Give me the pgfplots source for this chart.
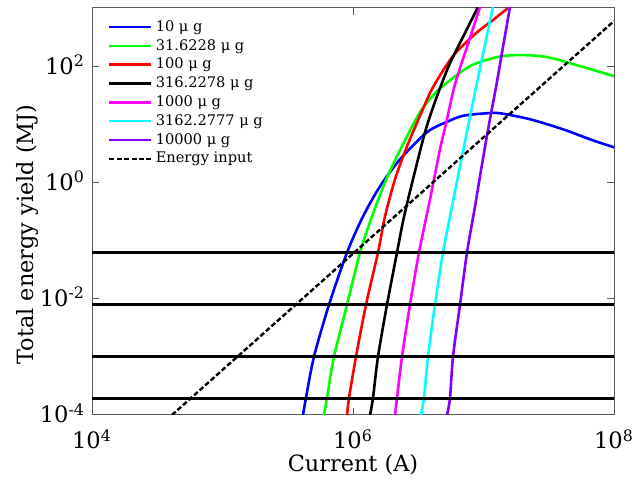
\documentclass[border=0pt]{standalone}
\usepackage{fontspec}
\setmainfont{DejaVu Serif}
\usepackage{pgfplots}
\pgfplotsset{compat=1.18}
\usetikzlibrary{calc}
\definecolor{mblue}{RGB}{0,0,255}
\definecolor{mgreen}{RGB}{0,255,0}
\definecolor{mred}{RGB}{255,0,0}
\definecolor{mmag}{RGB}{255,0,255}
\definecolor{mcyan}{RGB}{0,255,255}
\definecolor{mpurple}{RGB}{127,0,255}
\begin{document}
\begin{tikzpicture}
\begin{axis}[
  name=ax,
  scale only axis, width=261pt, height=203.5pt,
  xmode=log, ymode=log,
  xmin=1e4, xmax=1e8, ymin=1e-4, ymax=1e3,
  xtick={1e4,1e6,1e8}, ytick={1e-4,1e-2,1,1e2},
  xticklabels={10\textsuperscript{4},10\textsuperscript{6},10\textsuperscript{8}},
  yticklabels={10\textsuperscript{-4},10\textsuperscript{-2},10\textsuperscript{0},10\textsuperscript{2}},
  xminorticks=false, yminorticks=false,
  tick align=inside, major tick length=3.5pt,
  every tick/.style={black!65, line width=0.5pt},
  axis line style={black!65, line width=0.5pt},
  ticklabel style={font=\fontsize{11.3}{13}\selectfont},
  yticklabel style={anchor=base east, yshift=-4pt},
  xticklabel style={anchor=base, yshift=-17pt},
  xlabel={Current (A)}, ylabel={Total energy yield (MJ)},
  label style={font=\fontsize{11.2}{13}\selectfont},
  xlabel style={at={(axis description cs:0.5,0)}, anchor=base, yshift=-28.5pt},
  ylabel style={at={(axis description cs:-0.1245,0.4435)}, anchor=center},
  legend style={at={(0.031,0.976)}, anchor=north west, draw=none, fill=none,
    inner sep=0pt, outer sep=0pt,
    font=\fontsize{7.3}{8}\selectfont,
    nodes={inner ysep=0.5pt, inner xsep=1.5pt, text height=6.3pt, text depth=2.1pt},
    row sep=0pt},
  legend cell align=left,
  legend image code/.code={\draw[#1] (0pt,0pt) -- (21pt,0pt);},
]
\coordinate (bl) at (rel axis cs:0,0);
\coordinate (tr) at (rel axis cs:1,1);
\addplot[mblue, line width=1.3pt, smooth, tension=0.5] coordinates {
(4.14e5,1e-4) (4.36e5,1.96e-4) (5.02e5,1e-3) (6.55e5,7.88e-3) (9.0e5,6.21e-2)
(1.193e6,0.2593) (1.610e6,0.853) (2.292e6,2.493) (3.690e6,7.3) (5.252e6,11.0)
(6.966e6,14.0) (1.064e7,15.48) (1.338e7,15.48) (2.271e7,12.20) (4.066e7,8.201)
(6.549e7,5.513) (1e8,4.012)};
\addlegendentry{10 μ g}
\addplot[mgreen, line width=1.3pt, smooth, tension=0.5] coordinates {
(5.99e5,1e-4) (6.32e5,1.96e-4) (7.15e5,1e-3) (9.0e5,7.88e-3) (1.131e6,6.21e-2)
(1.398e6,0.2593) (1.759e6,1.0) (2.173e6,2.807) (3.261e6,16.10) (4.403e6,37.07)
(5.070e6,48.95) (7.880e6,100) (1.269e7,143.0) (1.904e7,154.8) (3.066e7,143.0)
(5.489e7,100) (1e8,67.23)};
\addlegendentry{31.6228 μ g}
\addplot[mred, line width=1.3pt, smooth, tension=0.5] coordinates {
(9.0e5,1e-4) (9.32e5,1.96e-4) (1.054e6,1e-3) (1.258e6,7.88e-3) (1.554e6,6.21e-2)
(1.759e6,0.2593) (2.098e6,1.127) (2.593e6,4.175) (3.378e6,16.75) (4.102e6,43.43)
(5.838e6,148.7) (8.607e6,356.1) (1.182e7,621) (1.540e7,1000)};
\addlegendentry{100 μ g}
\addplot[black, line width=1.3pt, smooth, tension=0.5] coordinates {
(1.350e6,1e-4) (1.423e6,1.96e-4) (1.554e6,1e-3) (1.822e6,7.88e-3) (2.173e6,6.21e-2)
(2.416e6,0.2126) (2.734e6,0.6996) (3.562e6,7.278) (4.403e6,30.40) (5.537e6,112.6)
(7.343e6,401.2) (9.077e6,1040)};
\addlegendentry{316.2278 μ g}
\addplot[mmag, line width=1.3pt, smooth, tension=0.5] coordinates {
(2.098e6,1e-4) (2.173e6,1.96e-4) (2.374e6,1e-3) (2.734e6,7.88e-3) (3.204e6,6.21e-2)
(3.890e6,0.5092) (4.642e6,3.707) (5.252e6,12.20) (6.047e6,48.95) (7.473e6,212.6)
(9.402e6,1040)};
\addlegendentry{1000 μ g}
\addplot[mcyan, line width=1.3pt, smooth, tension=0.5] coordinates {
(3.319e6,1e-4) (3.500e6,1.96e-4) (3.756e6,1e-3) (4.250e6,7.88e-3) (4.894e6,6.21e-2)
(5.838e6,0.4703) (6.966e6,3.423) (8.309e6,23.95) (9.913e6,161.0) (1.182e7,1040)};
\addlegendentry{3162.2777 μ g}
\addplot[mpurple, line width=1.3pt, smooth, tension=0.5] coordinates {
(5.252e6,1e-4) (5.537e6,1.96e-4) (5.838e6,1e-3) (6.607e6,7.88e-3) (7.473e6,6.21e-2)
(8.607e6,0.3856) (9.739e6,2.043) (1.102e7,10.0) (1.247e7,43.43) (1.410e7,212.6)
(1.596e7,1040)};
\addlegendentry{10000 μ g}
\addplot[black, line width=1.2pt, dash pattern=on 2.5pt off 1.2pt] coordinates {
(4.1e4,1e-4) (1e8,596)};
\addlegendentry{Energy input}
\addplot[black, line width=1.5pt, forget plot] coordinates {(1e4,0.0621) (1e8,0.0621)};
\addplot[black, line width=1.5pt, forget plot] coordinates {(1e4,0.00788) (1e8,0.00788)};
\addplot[black, line width=1.5pt, forget plot] coordinates {(1e4,0.001) (1e8,0.001)};
\addplot[black, line width=1.5pt, forget plot] coordinates {(1e4,0.000196) (1e8,0.000196)};
\end{axis}
\pgfresetboundingbox
\path[use as bounding box] ($(bl)+(-46pt,-37pt)$) rectangle ($(tr)+(11pt,4pt)$);
\end{tikzpicture}
\end{document}
